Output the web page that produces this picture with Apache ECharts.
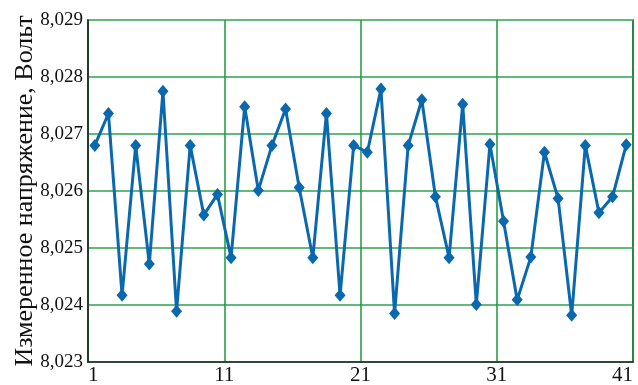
<!DOCTYPE html>
<html>
<head>
<meta charset="utf-8">
<script src="https://cdn.jsdelivr.net/npm/echarts@6/dist/echarts.min.js"></script>
<style>html,body{margin:0;padding:0;background:#fff}#c{width:638px;height:385px}</style>
</head>
<body>
<div id="c"></div>
<script>
var measurementNumbers = [1,2,3,4,5,6,7,8,9,10,11,12,13,14,15,16,17,18,19,20,21,22,23,24,25,26,27,28,29,30,31,32,33,34,35,36,37,38,39,40];
var voltages = [8.02680,8.02736,8.02417,8.02680,8.02472,8.02775,8.02389,8.02680,8.02558,8.02594,
                8.02483,8.02748,8.02601,8.02680,8.02744,8.02606,8.02483,8.02736,8.02417,8.02680,
                8.02668,8.02779,8.02385,8.02680,8.02760,8.02590,8.02483,8.02752,8.02401,8.02682,
                8.02547,8.02409,8.02484,8.02668,8.02587,8.02382,8.02680,8.02562,8.02590,8.02681];
var xTickLabels = ['1','11','21','31','41'];
var yTitle = 'Измеренное напряжение, Вольт';

var chart = echarts.init(document.getElementById('c'), null, {renderer:'canvas'});
var serif = '"Liberation Serif","Times New Roman",serif';
chart.setOption({
  animation: false,
  grid: {left: 88, right: 5, top: 20, bottom: 23, show: true, borderColor: '#222', borderWidth: 1.5,
         backgroundColor: 'transparent', containLabel: false, outerBoundsMode: 'none'},
  xAxis: {
    type: 'value', min: 0, max: 40, interval: 10,
    axisLine: {show: true, lineStyle: {color: '#222', width: 1.5}},
    axisTick: {show: false},
    splitLine: {show: true, lineStyle: {color: '#1a9a3c', width: 1.5}},
    axisLabel: {
      color: '#111', fontFamily: serif, fontSize: 21, margin: 3,
      alignMinLabel: 'left', alignMaxLabel: 'right',
      formatter: function(v){ return xTickLabels[Math.round(v/10)]; }
    }
  },
  yAxis: {
    type: 'value', min: 8.023, max: 8.029, interval: 0.001,
    name: yTitle, nameLocation: 'middle', nameGap: 50, nameMoveOverlap: false,
    nameTextStyle: {color: '#111', fontFamily: serif, fontSize: 26},
    axisLine: {show: true, lineStyle: {color: '#222', width: 1.5}},
    axisTick: {show: false},
    splitLine: {show: true, lineStyle: {color: '#62b97c', width: 2}},
    axisLabel: {
      color: '#111', fontFamily: serif, fontSize: 19, margin: 5,
      formatter: function(v){ return v.toFixed(3).replace('.', ','); }
    }
  },
  series: [{
    type: 'line',
    data: voltages.map(function(v, i){ return [measurementNumbers[i] - 0.5, v]; }),
    symbol: 'diamond', symbolSize: [11, 13],
    lineStyle: {color: '#0a68ae', width: 3},
    itemStyle: {color: '#0a68ae'},
    z: 5
  }]
});
</script>
</body>
</html>
